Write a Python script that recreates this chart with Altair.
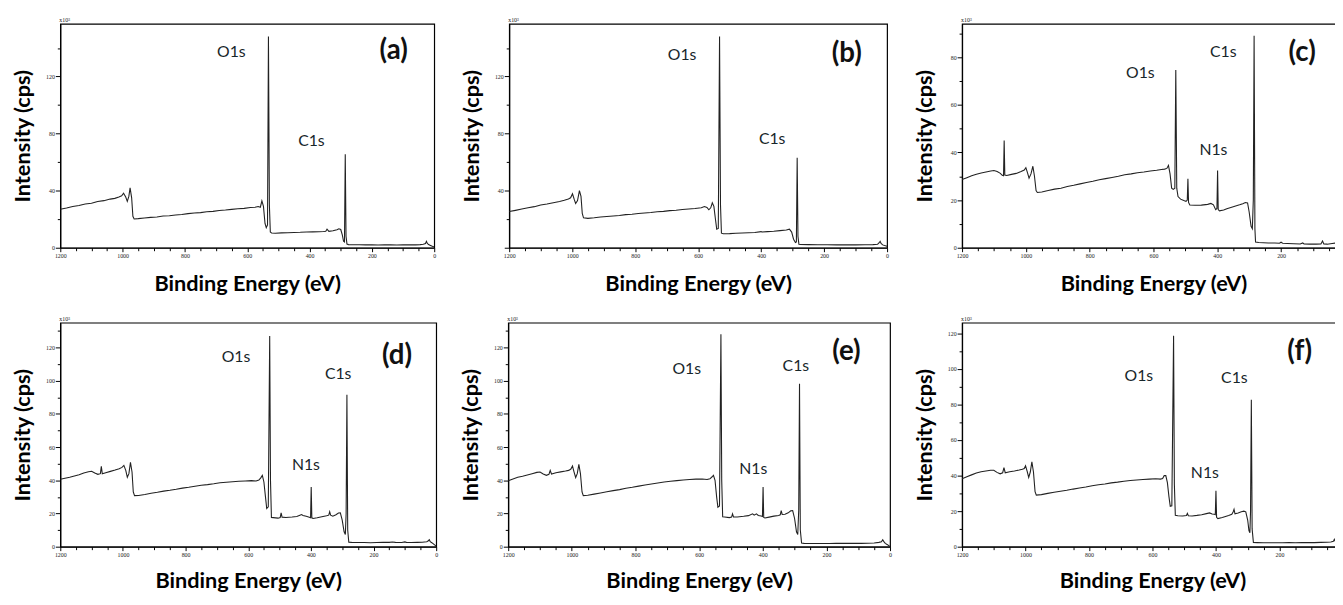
import altair as alt
import pandas as pd

# XPS survey spectra: (binding energy eV, intensity x10^3 cps)
spec_a = [(1200,27),(1180,27.8),(1160,28.9),(1140,29.6),(1120,30.6),(1100,31.2),(1080,32.4),(1060,33.0),
          (1040,34.1),(1025,34.6),(1012,35.6),(1003,36.4),(997,38.2),(990,35.5),(985,32.5),(980,36),(976,42),
          (971,35),(967,22),(963,20.2),(950,20.4),(930,20.9),(910,21.3),(890,21.6),(870,22.2),(850,22.4),
          (830,23.0),(810,23.3),(790,23.9),(770,24.3),(750,24.6),(730,25.2),(710,25.5),(690,26.1),(670,26.4),
          (650,26.9),(630,27.3),(610,27.6),(590,28.2),(575,28.4),(565,28.9),(558,28.4),(553,32.8),(548,29),
          (543,17),(539,14),(535,16),(532,148),(529,30),(526,11),(522,10.3),(510,10.2),(490,10.4),(470,10.5),
          (450,10.7),(430,10.8),(410,11.0),(390,11.1),(370,11.2),(355,11.4),(348,11.6),(344,13),(338,11.5),
          (325,11.9),(312,12.6),(306,13.3),(300,12.8),(295,9),(291,4.5),(288,4),(285.5,65.5),(283,8),(280,2.6),
          (275,2.2),(260,2.1),(240,2.1),(220,2.0),(200,2.0),(180,1.9),(160,2.0),(140,2.0),(120,1.9),(100,2.0),
          (80,2.1),(60,2.0),(45,2.2),(35,2.4),(28,3),(25,4.5),(22,3),(18,2.2),(12,1.6),(6,1.0),(0,0.5)]

spec_b = [(1200,25.4),(1180,26.2),(1160,27.1),(1140,28.0),(1120,28.8),(1100,29.9),(1080,30.6),(1060,31.6),
          (1040,32.4),(1025,33.3),(1012,34.2),(1005,35.0),(999,37.8),(993,33.5),(989,31.0),(983,33),(977,40),
          (972,36),(968,24),(964,21),(950,20.6),(930,21.0),(910,21.5),(890,21.9),(870,22.3),(850,22.6),
          (830,23.2),(810,23.5),(790,24.0),(770,24.4),(750,24.7),(730,25.2),(710,25.5),(690,26.0),(670,26.3),
          (650,26.8),(630,27.2),(610,27.5),(590,28.0),(580,28.9),(572,28.2),(566,26.6),(560,28),(555,31.5),
          (550,29),(545,20),(541,13),(536,13.5),(532,148),(529,30),(526,10.2),(520,9.8),(500,9.9),(480,10.1),
          (460,10.3),(440,10.5),(420,10.7),(400,11.3),(398,11.0),(380,11.3),(360,11.6),(340,12.0),(320,12.4),
          (310,13.0),(303,11),(297,6),(291,3.6),(288,4),(285.5,63),(283,8),(280,2.5),(275,2.3),(250,2.2),
          (220,2.1),(190,2.1),(160,2.0),(130,2.0),(100,2.0),(70,2.1),(45,2.2),(30,2.5),(25,3.5),(22,4.5),
          (19,3),(14,2),(8,1.5),(0,1)]

spec_c = [(1200,28.6),(1185,29.4),(1170,30.2),(1155,30.8),(1140,31.4),(1125,31.8),(1110,32.2),(1100,32.4),
          (1090,32.0),(1080,31.2),(1074,30.4),(1070,30.2),(1068,45),(1066,30.5),(1060,30.3),(1045,30.8),
          (1030,31.2),(1015,32.0),(1005,32.6),(1000,33.6),(995,31.5),(990,29.2),(984,31),(978,34.2),(973,30),
          (968,24),(964,23.2),(950,23.4),(930,24.0),(910,24.6),(890,25.0),(870,25.7),(850,26.2),(830,26.8),
          (810,27.4),(790,27.9),(770,28.5),(750,29.0),(730,29.5),(710,30.0),(690,30.6),(670,31.0),(650,31.5),
          (630,31.8),(610,32.2),(590,32.5),(575,32.8),(565,33.0),(558,33.3),(553,34.6),(548,31),(543,25),
          (538,24.5),(533,25),(530,74.6),(527,25),(523,21.5),(515,20.4),(505,19.8),(498,19.5),(494,20),
          (492,29),(490,19),(486,17.9),(470,17.8),(450,17.9),(430,18.2),(420,18.6),(412,18),(405,16),
          (401,16.5),(399,32.4),(397,16),(393,15.5),(380,15.8),(370,16.4),(360,16.8),(350,17.2),(340,17.6),
          (330,18),(320,18.5),(312,19),(305,18.8),(300,15),(294,9),(290,8),(287,20),(284.5,89),(282,8),
          (280,2.4),(270,2.2),(255,2.1),(240,2.0),(220,2.0),(205,1.9),(200,2.3),(195,1.9),(180,1.8),(160,1.7),
          (140,1.6),(132,2.0),(128,1.6),(110,1.5),(90,1.5),(75,1.6),(70,2.8),(66,1.6),(55,1.5),(40,1.8),
          (25,2),(15,1.6),(0,1)]

spec_d = [(1200,40.6),(1185,41.2),(1170,41.8),(1155,42.6),(1140,43.4),(1125,44.4),(1110,45.2),(1100,45.5),
          (1090,44.4),(1080,43.6),(1072,44),(1069,48.4),(1066,44),(1055,44.6),(1040,45.4),(1025,46.2),
          (1012,47),(1003,47.8),(997,49),(991,46),(986,41.8),(981,44),(976,50.8),(971,45),(967,33),(963,30.8),
          (950,30.9),(930,31.5),(910,32.2),(890,32.8),(870,33.5),(850,34.0),(830,34.6),(810,35.3),(790,35.8),
          (770,36.4),(750,37.0),(730,37.4),(710,37.9),(690,38.5),(670,38.8),(650,39.1),(630,39.4),(610,39.6),
          (590,39.8),(575,39.6),(566,40.2),(560,41.5),(555,43),(550,39),(545,30),(541,23),(536,24),
          (531.5,127),(529,40),(526,17.6),(520,17.5),(505,17.2),(498,17.6),(495,20.4),(492,17.8),(480,17.6),
          (460,17.9),(445,18.2),(435,19.0),(430,19.4),(425,18.8),(415,18.3),(405,17.8),(401,17.5),(399,36),
          (397,17.4),(393,17),(380,17.4),(365,18),(350,18.6),(343,19),(340,21),(337,19),(330,18.4),(320,19.3),
          (312,20.3),(306,20.4),(300,16),(294,9),(290,7.3),(287.5,20),(285,91.6),(282.5,10),(279,2.7),
          (270,2.6),(250,2.5),(230,2.5),(210,2.4),(190,2.5),(170,2.6),(150,2.6),(140,2.8),(130,2.6),(110,2.5),
          (100,2.9),(95,2.6),(80,2.5),(60,2.6),(45,2.7),(30,3),(25,3.6),(22,4.2),(19,3),(14,2.4),(8,1.5),(0,0.3)]

spec_e = [(1200,39.7),(1185,40.8),(1170,41.8),(1155,42.4),(1140,43.2),(1125,44.0),(1110,44.8),(1100,45),
          (1090,43.8),(1080,43.0),(1072,43.6),(1068,46),(1064,43.8),(1050,44.6),(1035,45.1),(1020,45.6),
          (1010,46),(1003,46.8),(998,48.6),(993,45),(988,41.7),(983,44),(978,49.6),(973,44),(968,33),(964,30.8),
          (950,31.0),(930,31.7),(910,32.4),(890,33.1),(870,33.8),(850,34.4),(830,35.2),(810,35.8),(790,36.5),
          (770,37.2),(750,37.8),(730,38.4),(710,39.0),(690,39.4),(670,39.8),(650,40.2),(630,40.5),(610,40.7),
          (590,40.8),(575,40.5),(566,40.9),(560,42),(555,43),(550,40),(545,30),(541,23.8),(536,24.5),
          (531.5,128),(529,40),(526,18),(520,17.9),(505,17.5),(498,17.8),(495,19.8),(492,17.9),(480,17.9),
          (460,18.3),(445,18.7),(432,19.8),(427,19),(420,19.8),(414,18.8),(405,18.5),(401,18.2),(399,36),
          (397,17.6),(393,17.3),(380,17.8),(365,18.4),(350,18.8),(345,19.2),(342,21.8),(339,19.4),(330,19.6),
          (320,20.4),(312,21.6),(306,21.8),(300,17),(294,9),(290,7.3),(287,22),(284.5,98.2),(282,10),(278,2.2),
          (270,2.0),(250,1.9),(230,1.9),(210,1.9),(190,1.9),(170,2.0),(150,2.0),(130,2.0),(110,2.0),(90,2.0),
          (70,2.1),(50,2.2),(35,2.6),(27,3),(23,4.2),(20,3.2),(15,2),(8,1.2),(0,0)]

spec_f = [(1200,38.2),(1185,39.4),(1170,40.4),(1155,41.4),(1140,42.2),(1125,42.6),(1110,43),(1100,43),
          (1090,41.8),(1080,41),(1072,41.6),(1068,44.5),(1064,41.6),(1050,42.2),(1035,42.6),(1020,43.1),
          (1010,43.6),(1004,44),(1000,45.5),(995,42.5),(990,39),(985,42),(980,47.8),(975,42),(970,31),(966,29),
          (950,29.3),(930,30.0),(910,30.6),(890,31.2),(870,31.7),(850,32.4),(830,33.0),(810,33.6),(790,34.3),
          (770,34.8),(750,35.3),(730,35.9),(710,36.3),(690,36.8),(670,37.2),(650,37.5),(630,37.8),(610,38.0),
          (590,38.2),(575,38.0),(568,38.3),(563,40),(558,40),(553,36),(548,28),(544,22.7),(539,23),
          (533.5,118.7),(531,35),(528,17.6),(520,17.4),(505,17.3),(493,17.5),(490,18.7),(487,17.4),(475,17.3),
          (460,17.6),(445,18),(430,18.6),(420,19),(412,18.4),(405,18.2),(402,18),(400,31.5),(398,16.5),
          (394,15.8),(380,16.4),(370,17),(360,17.5),(350,18.2),(346,19.5),(343,21),(340,18.5),(330,19),
          (320,19.6),(312,20),(306,19.6),(300,15),(296,9),(293,7.8),(291,20),(288.5,82.7),(286,10),(282,2.4),
          (270,2.3),(250,2.2),(230,2.2),(210,2.2),(190,2.2),(170,2.3),(150,2.2),(130,2.3),(110,2.3),(90,2.3),
          (70,2.4),(50,2.5),(38,2.6),(30,3),(27,4.2),(24,3),(18,2.2),(8,1.5),(0,1)]

# peak labels (label, energy, intensity) and panel tags
labels_a = [("O1s", 651, 137), ("C1s", 394, 75)]
labels_b = [("O1s", 651, 135), ("C1s", 365, 76)]
labels_c = [("O1s", 641, 73.5), ("C1s", 381, 82), ("N1s", 412, 41)]
labels_d = [("O1s", 639, 114), ("C1s", 313, 104), ("N1s", 416, 49)]
labels_e = [("O1s", 639, 107), ("C1s", 296, 109), ("N1s", 430, 47)]
labels_f = [("O1s", 643, 96), ("C1s", 342, 95), ("N1s", 435, 41.6)]
tags = {"a": ("(a)", 130, 138), "b": ("(b)", 128, 136), "c": ("(c)", 134, 81.6),
        "d": ("(d)", 125, 115), "e": ("(e)", 137, 117.5), "f": ("(f)", 136, 109.6)}

# y-axis ranges (x10^3 cps): max, labelled step, tick step
y_max = {"a": 157, "b": 157, "c": 94, "d": 135, "e": 135, "f": 126}
y_major = {"a": 40, "b": 40, "c": 20, "d": 20, "e": 20, "f": 20}
y_minor = {"a": 20, "b": 20, "c": 10, "d": 10, "e": 10, "f": 10}
x_ticks = list(range(0, 1201, 50))

TEXT = "#17262a"


def panel(key, spec, labels, width, height, xtitle_pad, zero_label=True, x_zero_label=True):
    df = pd.DataFrame(spec, columns=["energy", "intensity"])
    ann = pd.DataFrame(labels, columns=["label", "energy", "intensity"])
    tag = pd.DataFrame([tags[key]], columns=["label", "energy", "intensity"])
    mult = pd.DataFrame([("x10\u00b3", 1200, y_max[key])], columns=["label", "energy", "intensity"])

    xs = alt.Scale(domain=[1200, 0], nice=False)
    ys = alt.Scale(domain=[0, y_max[key]], nice=False)
    xtest = "datum.value % 200 === 0"
    xlab = xtest if x_zero_label else f"{xtest} && datum.value > 0"
    ytest = f"datum.value % {y_major[key]} === 0"
    ylab = ytest if zero_label else f"{ytest} && datum.value > 0"
    yticks = list(range(0, y_max[key] + 1, y_minor[key]))

    xaxis = alt.Axis(values=x_ticks, format="d", labelExpr=f"{xlab} ? datum.label : ''",
                     tickSize={"condition": {"test": xtest, "value": 4}, "value": 3},
                     labelOverlap=False, labelFlush=False, titlePadding=xtitle_pad,
                     title="Binding Energy (eV)")
    yaxis = alt.Axis(values=yticks, format="d", labelExpr=f"{ylab} ? datum.label : ''",
                     tickSize={"condition": {"test": ytest, "value": 5}, "value": 3},
                     labelOverlap=False, labelFlush=False, title="Intensity (cps)")

    x = alt.X("energy:Q", scale=xs, axis=xaxis, title="Binding Energy (eV)")
    y = alt.Y("intensity:Q", scale=ys, axis=yaxis, title="Intensity (cps)")

    line = alt.Chart(df).mark_line(color="#222222", strokeWidth=1.1, clip=True).encode(x=x, y=y)
    txt = alt.Chart(ann).mark_text(font="Lato", fontSize=16, color=TEXT).encode(x=x, y=y, text="label:N")
    tg = alt.Chart(tag).mark_text(font="Lato", fontSize=28, fontWeight="bold", color="#111111").encode(
        x=x, y=y, text="label:N")
    mu = alt.Chart(mult).mark_text(font="Liberation Serif", fontSize=6, align="left", baseline="bottom",
                                   dy=-1, dx=-1, color="#222222").encode(x=x, y=y, text="label:N")
    return alt.layer(line, txt, tg, mu).properties(width=width, height=height)


H = 227
pa = panel("a", spec_a, labels_a, 379, H, 15)
pb = panel("b", spec_b, labels_b, 383, H, 15, zero_label=False)
pc = panel("c", spec_c, labels_c, 388, H, 15, x_zero_label=False)
pdd = panel("d", spec_d, labels_d, 381, H, 13)
pe = panel("e", spec_e, labels_e, 387, H, 13)
pf = panel("f", spec_f, labels_f, 386, H, 13, x_zero_label=False)

row1 = alt.hconcat(pa, pb, pc, spacing=23)
row2 = alt.hconcat(pdd, pe, pf, spacing=20)

chart = alt.vconcat(row1, row2, spacing=20).properties(
    padding={"left": 3, "top": 4, "right": -12, "bottom": 0}
).configure_view(
    stroke="black", strokeWidth=1.2
).configure_axis(
    domainColor="black", domainWidth=1.2, tickColor="black", tickWidth=1, grid=False,
    labelFont="Liberation Serif", labelFontSize=6, labelColor="#222222",
    titleFont="Lato", titleFontSize=22, titleFontWeight="bold", titleColor="#000000"
).configure_axisX(
    labelPadding=1
).configure_axisY(
    labelPadding=1, titlePadding=10, minExtent=16, maxExtent=16
)

chart.save("out.html", embed_options={"renderer": "svg", "actions": False})
